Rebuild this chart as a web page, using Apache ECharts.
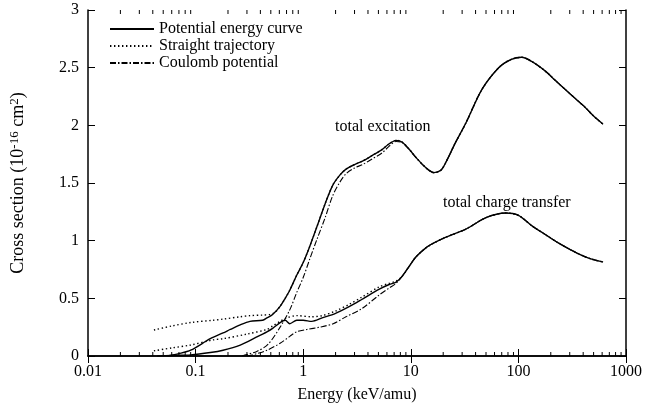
<!DOCTYPE html>
<html>
<head>
<meta charset="utf-8">
<script src="https://cdn.jsdelivr.net/npm/echarts@6/dist/echarts.min.js"></script>
<style>
  html, body { margin: 0; padding: 0; background: #fff; }
  #chart { width: 645px; height: 413px; }
</style>
</head>
<body>
<div id="chart"></div>
<script>
// Energy axis tick labels (keV/amu) and minor tick positions
const xTickLabels = ['0.01', '0.1', '1', '10', '100', '1000'];
const xMinorTicks = [0.02,0.03,0.04,0.05,0.06,0.07,0.08,0.09,
                     0.2,0.3,0.4,0.5,0.6,0.7,0.8,0.9,
                     2,3,4,5,6,7,8,9,
                     20,30,40,50,60,70,80,90,
                     200,300,400,500,600,700,800,900];

// Total excitation, shared high-energy part (all three trajectories agree)
const excTailE = [9.7, 11.2, 13.9, 16.4, 19, 21.2, 26, 32.5, 45.7, 65.6, 85, 107, 135, 178, 220, 273, 340, 418, 500, 612];
const excTailS = [1.79, 1.72, 1.63, 1.59, 1.61, 1.68, 1.85, 2.02, 2.31, 2.5, 2.57, 2.59, 2.55, 2.47, 2.39, 2.31, 2.23, 2.155, 2.08, 2.01];

// Total excitation, low-energy part per trajectory
const excPecE = [0.055, 0.07, 0.09, 0.137, 0.18, 0.21, 0.26, 0.32, 0.42, 0.46, 0.52, 0.61, 0.68, 0.75, 0.87, 1.0, 1.15, 1.34, 1.6, 1.88, 2.2, 2.5, 3.0, 3.56, 4.4, 5.4, 6.3, 7.3, 8.3];
const excPecS = [0.0, 0.02, 0.05, 0.15, 0.2, 0.23, 0.27, 0.30, 0.31, 0.33, 0.36, 0.43, 0.5, 0.57, 0.7, 0.81, 0.95, 1.12, 1.32, 1.48, 1.57, 1.62, 1.66, 1.69, 1.74, 1.79, 1.84, 1.87, 1.855];

const excStrE = [0.041, 0.06, 0.09, 0.146, 0.18, 0.26, 0.32, 0.42, 0.49, 0.55, 0.61, 0.68, 0.75, 0.87, 1.0, 1.15, 1.34, 1.6, 1.88, 2.2, 2.5, 3.0, 3.56, 4.4, 5.4, 6.3, 7.3, 8.3];
const excStrS = [0.225, 0.26, 0.29, 0.31, 0.32, 0.34, 0.35, 0.355, 0.36, 0.38, 0.43, 0.5, 0.57, 0.7, 0.81, 0.95, 1.12, 1.32, 1.48, 1.57, 1.62, 1.66, 1.69, 1.74, 1.79, 1.84, 1.87, 1.855];

const excCouE = [0.27, 0.37, 0.47, 0.61, 0.75, 0.87, 1.0, 1.15, 1.34, 1.6, 1.88, 2.2, 2.5, 3.0, 3.56, 4.4, 5.4, 6.3, 7.3, 8.3];
const excCouS = [0.0, 0.04, 0.1, 0.25, 0.4, 0.55, 0.68, 0.84, 1.01, 1.2, 1.39, 1.51, 1.58, 1.63, 1.66, 1.71, 1.76, 1.82, 1.86, 1.85];

// Total charge transfer, shared high-energy part
const ctTailE = [8.3, 9.7, 11.2, 13.9, 16.4, 21.2, 32.5, 50, 76, 100, 133, 180, 235, 300, 384, 480, 612];
const ctTailS = [0.69, 0.78, 0.86, 0.94, 0.98, 1.03, 1.1, 1.2, 1.24, 1.22, 1.13, 1.05, 0.98, 0.925, 0.875, 0.84, 0.815];

// Total charge transfer, low-energy part per trajectory
const ctPecE = [0.044, 0.06, 0.09, 0.137, 0.18, 0.26, 0.37, 0.46, 0.52, 0.61, 0.68, 0.75, 0.87, 1.0, 1.2, 1.5, 2.0, 2.7, 3.5, 5.1, 6.3, 7.3];
const ctPecS = [0.0, 0.005, 0.01, 0.03, 0.05, 0.095, 0.165, 0.21, 0.24, 0.29, 0.31, 0.28, 0.31, 0.31, 0.30, 0.33, 0.37, 0.43, 0.49, 0.58, 0.62, 0.64];

const ctStrE = [0.041, 0.06, 0.09, 0.146, 0.18, 0.3, 0.46, 0.52, 0.61, 0.7, 0.87, 1.2, 1.5, 2.0, 2.7, 3.5, 5.1, 6.3, 7.3];
const ctStrS = [0.045, 0.07, 0.095, 0.14, 0.15, 0.19, 0.23, 0.26, 0.3, 0.33, 0.35, 0.34, 0.35, 0.39, 0.45, 0.51, 0.6, 0.63, 0.65];

const ctCouE = [0.3, 0.37, 0.46, 0.61, 0.75, 0.87, 1.08, 1.42, 1.9, 2.5, 3.5, 5.1, 6.3, 7.3];
const ctCouS = [0.0, 0.02, 0.05, 0.11, 0.17, 0.21, 0.23, 0.25, 0.28, 0.34, 0.41, 0.53, 0.59, 0.63];

const legendNames = ['Potential energy curve', 'Straight trajectory', 'Coulomb potential'];

const FONT = '"Liberation Serif", "Times New Roman", serif';

function pairs(es, ss) { return es.map((e, i) => [e, ss[i]]); }

const lineStyles = {
  solid:   { color: '#000', width: 1.4, type: 'solid' },
  dotted:  { color: '#000', width: 1.4, type: [1.4, 2.6] },
  dashdot: { color: '#000', width: 1.1, type: [6, 2, 1.5, 2] }
};

function curve(name, data, style, z) {
  return {
    name: name, type: 'line', data: data, showSymbol: false, symbol: 'none',
    smooth: 0.3, lineStyle: style, itemStyle: { color: '#000' },
    z: z, animation: false, silent: true
  };
}

const series = [
  curve(legendNames[1], pairs(excStrE.concat(excTailE), excStrS.concat(excTailS)), lineStyles.dotted, 2),
  curve(legendNames[1], pairs(ctStrE.concat(ctTailE), ctStrS.concat(ctTailS)), lineStyles.dotted, 2),
  curve(legendNames[2], pairs(excCouE.concat(excTailE), excCouS.concat(excTailS)), lineStyles.dashdot, 3),
  curve(legendNames[2], pairs(ctCouE.concat(ctTailE), ctCouS.concat(ctTailS)), lineStyles.dashdot, 3),
  curve(legendNames[0], pairs(excPecE.concat(excTailE), excPecS.concat(excTailS)), lineStyles.solid, 4),
  curve(legendNames[0], pairs(ctPecE.concat(ctTailE), ctPecS.concat(ctTailS)), lineStyles.solid, 4),
  {
    // minor ticks of the logarithmic energy axis, bottom and top edges
    type: 'custom', silent: true, animation: false, clip: false, z: 5,
    data: xMinorTicks.map(v => [v, 0]),
    renderItem: function (params, api) {
      const cs = params.coordSys;
      const x = api.coord([api.value(0), 0])[0];
      const st = { stroke: '#000', lineWidth: 1 };
      return {
        type: 'group',
        children: [
          { type: 'line', shape: { x1: x, y1: cs.y + cs.height, x2: x, y2: cs.y + cs.height - 4 }, style: st },
          { type: 'line', shape: { x1: x, y1: cs.y, x2: x, y2: cs.y + 4 }, style: st }
        ]
      };
    }
  }
];

const axisLine = { show: true, lineStyle: { color: '#000', width: 1.5 } };
const axisTick = { show: true, inside: true, length: 7, lineStyle: { color: '#000', width: 1 } };

const chart = echarts.init(document.getElementById('chart'), null, { renderer: 'canvas' });
chart.setOption({
  animation: false,
  backgroundColor: '#fff',
  grid: { left: 87, right: 17, top: 10, bottom: 57, containLabel: false },
  legend: {
    data: legendNames,
    orient: 'vertical',
    left: 104, top: 16,
    itemWidth: 44, itemHeight: 14, itemGap: 1,
    selectedMode: false,
    itemStyle: { opacity: 0 },
    textStyle: { fontFamily: FONT, fontSize: 16, lineHeight: 14, color: '#000', padding: [0, 0, 0, 0] }
  },
  xAxis: [
    {
      type: 'log', logBase: 10, min: 0.01, max: 1000, position: 'bottom',
      name: 'Energy (keV/amu)', nameLocation: 'middle', nameGap: 31,
      nameTextStyle: { fontFamily: FONT, fontSize: 16, color: '#000' },
      axisLine: axisLine, axisTick: axisTick, splitLine: { show: false },
      axisLabel: {
        fontFamily: FONT, fontSize: 16, color: '#000', margin: 8,
        formatter: function (v) {
          const i = Math.round(Math.log10(v)) + 2;
          return xTickLabels[i] !== undefined ? xTickLabels[i] : '';
        }
      }
    },
    {
      type: 'log', logBase: 10, min: 0.01, max: 1000, position: 'top',
      axisLine: axisLine, axisTick: axisTick, axisLabel: { show: false }, splitLine: { show: false }
    }
  ],
  yAxis: [
    {
      type: 'value', min: 0, max: 3, interval: 0.5, position: 'left',
      name: '{t|Cross section (10}{s|-16}{t| cm}{s|2}{t|)}',
      nameLocation: 'middle', nameGap: 60, nameRotate: 90,
      nameTextStyle: {
        fontFamily: FONT, fontSize: 18, color: '#000',
        rich: {
          t: { fontFamily: FONT, fontSize: 18, color: '#000' },
          s: { fontFamily: FONT, fontSize: 13, color: '#000', verticalAlign: 'top', padding: [0, 0, 7, 0] }
        }
      },
      axisLine: axisLine, axisTick: axisTick, splitLine: { show: false },
      axisLabel: { fontFamily: FONT, fontSize: 16, color: '#000', margin: 9 }
    },
    {
      type: 'value', min: 0, max: 3, interval: 0.5, position: 'right',
      axisLine: axisLine, axisTick: axisTick, axisLabel: { show: false }, splitLine: { show: false }
    }
  ],
  graphic: [
    { type: 'text', left: 335, top: 119, style: { text: 'total excitation', font: '16px ' + FONT, fill: '#000' } },
    { type: 'text', left: 443, top: 195, style: { text: 'total charge transfer', font: '16px ' + FONT, fill: '#000' } }
  ],
  series: series
});
</script>
</body>
</html>
